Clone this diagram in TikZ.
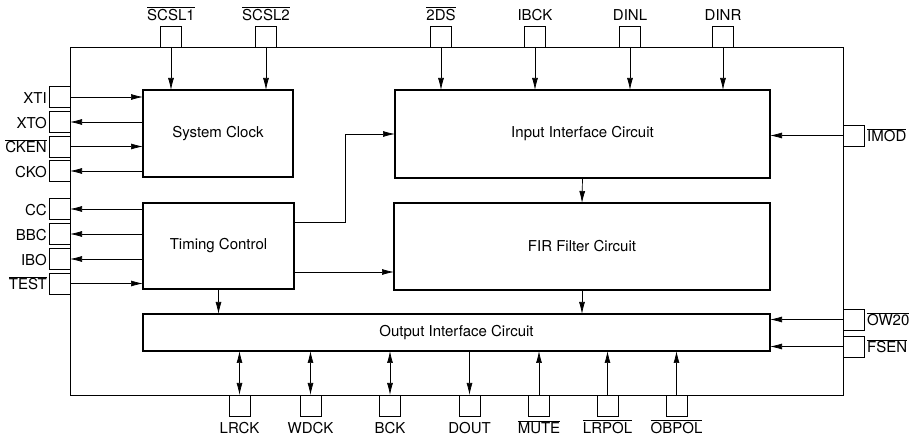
\documentclass[tikz,border=0pt]{standalone}
\usepackage{fontspec}
\setmainfont{TeX Gyre Heros}
\usetikzlibrary{arrows.meta, positioning, calc}
\newcommand{\ovl}[1]{$\overline{\hbox{#1}}$}

\begin{document}
\begin{tikzpicture}[x=1pt, y=-1pt,
  font=\fontsize{15}{17}\selectfont,
  chipbox/.style={draw, line width=0.7pt, inner sep=0pt, outer sep=0pt},
  block/.style={draw, line width=1.4pt, inner sep=0pt, outer sep=0pt},
  pin/.style={draw, line width=0.7pt, minimum width=21pt, minimum height=21pt, inner sep=0pt, outer sep=0pt},
  sig/.style={line width=0.7pt, -{Latex[length=12pt,width=6pt]}},
  bidir/.style={line width=0.7pt, {Latex[length=12pt,width=6pt]}-{Latex[length=12pt,width=6pt]}},
  every label/.style={inner sep=1pt, text height=12.5pt, text depth=0pt}]
  \useasboundingbox (0,0) rectangle (911,435);

  % chip outline
  \node[chipbox, minimum width=773pt, minimum height=348pt] (chip) at (456.5,221) {};

  % blocks
  \node[block, minimum width=150pt, minimum height=87pt] (sysclk) at (218,133.5) {System Clock};
  \node[block, minimum width=151pt, minimum height=86pt] (timing) at (218.5,246) {Timing Control};
  \node[block, minimum width=375pt, minimum height=88pt] (input) at (582.5,134) {Input Interface Circuit};
  \node[block, minimum width=376pt, minimum height=87pt] (fir) at (582,246.5) {FIR Filter Circuit};
  \node[block, minimum width=627pt, minimum height=37pt] (output) at (456.5,332.5) {Output Interface Circuit};

  % top pins
  \node[pin, anchor=south, label={[label distance=4.5pt]above:{\ovl{SCSL1}}}] (scsl1) at (171,47) {};
  \node[pin, anchor=south, label={[label distance=4.5pt]above:{\ovl{SCSL2}}}] (scsl2) at (266,47) {};
  \node[pin, anchor=south, label={[label distance=4.5pt]above:{\ovl{2DS}}}] (tds) at (441,47) {};
  \node[pin, anchor=south, label={[label distance=4.5pt]above:{IBCK}}] (ibck) at (535,47) {};
  \node[pin, anchor=south, label={[label distance=4.5pt]above:{DINL}}] (dinl) at (630,47) {};
  \node[pin, anchor=south, label={[label distance=4.5pt]above:{DINR}}] (dinr) at (723,47) {};

  % left pins
  \node[pin, anchor=east, label={[label distance=1pt]left:{XTI}}] (xti) at (70,97) {};
  \node[pin, anchor=east, label={[label distance=1pt]left:{XTO}}] (xto) at (70,122) {};
  \node[pin, anchor=east, label={[label distance=1pt]left:{\ovl{CKEN}}}] (cken) at (70,146.5) {};
  \node[pin, anchor=east, label={[label distance=1pt]left:{CKO}}] (cko) at (70,171) {};
  \node[pin, anchor=east, label={[label distance=1pt]left:{CC}}] (cc) at (70,209) {};
  \node[pin, anchor=east, label={[label distance=1pt]left:{BBC}}] (bbc) at (70,234) {};
  \node[pin, anchor=east, label={[label distance=1pt]left:{IBO}}] (ibo) at (70,259) {};
  \node[pin, anchor=east, label={[label distance=1pt]left:{\ovl{TEST}}}] (test) at (70,283.5) {};

  % right pins
  \node[pin, anchor=west, label={[label distance=2pt]right:{\ovl{IMOD}}}] (imod) at (843,135.5) {};
  \node[pin, anchor=west, label={[label distance=2pt]right:{\ovl{OW20}}}] (owtw) at (843,319.5) {};
  \node[pin, anchor=west, label={[label distance=2pt]right:{\ovl{FSEN}}}] (fsen) at (843,346.5) {};

  % bottom pins
  \node[pin, anchor=north, label={[label distance=3.5pt]below:{LRCK}}] (lrck) at (239.5,395) {};
  \node[pin, anchor=north, label={[label distance=3.5pt]below:{WDCK}}] (wdck) at (310.5,395) {};
  \node[pin, anchor=north, label={[label distance=3.5pt]below:{BCK}}] (bck) at (390,395) {};
  \node[pin, anchor=north, label={[label distance=3.5pt]below:{DOUT}}] (dout) at (469.5,395) {};
  \node[pin, anchor=north, label={[label distance=3.5pt]below:{\ovl{MUTE}}}] (mute) at (539,395) {};
  \node[pin, anchor=north, label={[label distance=3.5pt]below:{\ovl{LRPOL}}}] (lrpol) at (607.5,395) {};
  \node[pin, anchor=north, label={[label distance=3.5pt]below:{\ovl{OBPOL}}}] (obpol) at (676.5,395) {};

  % top inputs
  \draw[sig] (scsl1.south) -- (scsl1.south |- sysclk.north);
  \draw[sig] (scsl2.south) -- (scsl2.south |- sysclk.north);
  \draw[sig] (tds.south) -- (tds.south |- input.north);
  \draw[sig] (ibck.south) -- (ibck.south |- input.north);
  \draw[sig] (dinl.south) -- (dinl.south |- input.north);
  \draw[sig] (dinr.south) -- (dinr.south |- input.north);

  % left side
  \draw[sig] (xti.east) -- (xti.east -| sysclk.west);
  \draw[sig] (xto.east -| sysclk.west) -- (xto.east);
  \draw[sig] (cken.east) -- (cken.east -| sysclk.west);
  \draw[sig] (cko.east -| sysclk.west) -- (cko.east);
  \draw[sig] (cc.east -| timing.west) -- (cc.east);
  \draw[sig] (bbc.east -| timing.west) -- (bbc.east);
  \draw[sig] (ibo.east -| timing.west) -- (ibo.east);
  \draw[sig] (test.east) -- (test.east -| timing.west);

  % right side
  \draw[sig] (imod.west) -- (imod.west -| input.east);
  \draw[sig] (owtw.west) -- (owtw.west -| output.east);
  \draw[sig] (fsen.west) -- (fsen.west -| output.east);

  % internal
  \coordinate (t2i) at ([yshift=24pt]timing.east);
  \coordinate (t2f) at ([yshift=-26pt]timing.east);
  \draw[sig] (t2i) -- ++(51,0) |- (input.west);
  \draw[sig] (t2f) -- (t2f -| fir.west);
  \draw[sig] (input.south) -- (fir.north);
  \draw[sig] (timing.south) -- (timing.south |- output.north);
  \draw[sig] (fir.south) -- (fir.south |- output.north);

  % bottom side
  \draw[bidir] (lrck.north) -- (lrck.north |- output.south);
  \draw[bidir] (wdck.north) -- (wdck.north |- output.south);
  \draw[bidir] (bck.north) -- (bck.north |- output.south);
  \draw[sig] (dout.north |- output.south) -- (dout.north);
  \draw[sig] (mute.north) -- (mute.north |- output.south);
  \draw[sig] (lrpol.north) -- (lrpol.north |- output.south);
  \draw[sig] (obpol.north) -- (obpol.north |- output.south);
\end{tikzpicture}
\end{document}
